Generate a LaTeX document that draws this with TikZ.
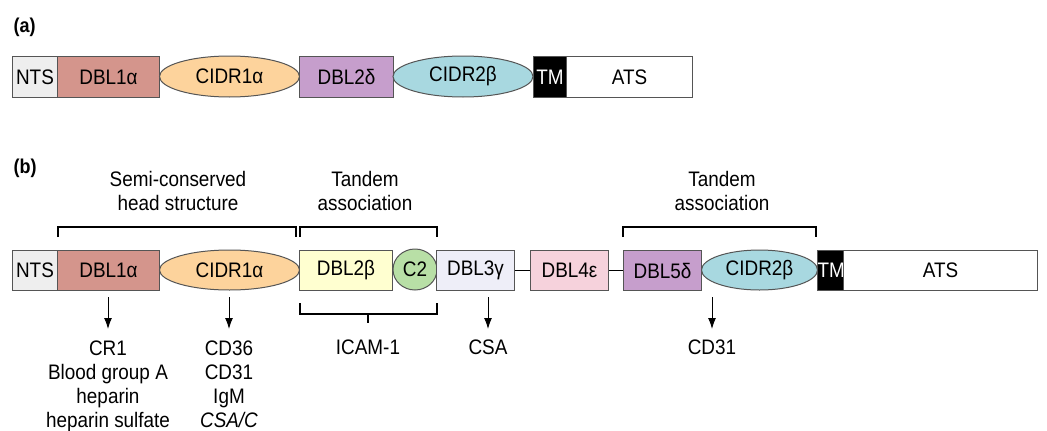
\documentclass[tikz,border=0pt]{standalone}
\usepackage{fontspec}
\setmainfont{Liberation Sans}
\usetikzlibrary{shapes.geometric,arrows.meta}
\definecolor{ntsc}{HTML}{EEEEEE}
\definecolor{dblonec}{HTML}{D4958C}
\definecolor{cidronec}{HTML}{FDD39C}
\definecolor{deltac}{HTML}{C69ECC}
\definecolor{cidrtwoc}{HTML}{A8D8E0}
\definecolor{betac}{HTML}{FFFFD0}
\definecolor{ctwoc}{HTML}{B8DFA6}
\definecolor{gammac}{HTML}{EEEEF8}
\definecolor{epsc}{HTML}{F6D2DC}
\definecolor{edgec}{HTML}{555555}
\newcommand{\sq}[1]{\scalebox{0.9}[1]{#1}}
\tikzset{
  x=1pt,y=-1pt,
  every node/.style={font=\fontsize{21}{25}\selectfont},
  dom/.style={draw=edgec,line width=1pt,rectangle,inner sep=0pt,anchor=north west},
  oval/.style={draw=edgec,line width=1pt,ellipse,inner sep=0pt},
  brk/.style={draw=black,line width=1.1pt},
  arr/.style={draw=black,line width=1pt,-{Latex[length=11pt,width=8pt]}},
  lbl/.style={font=\fontsize{20}{24}\selectfont\bfseries}
}
\begin{document}
\begin{tikzpicture}
\useasboundingbox (0,0) rectangle (1047,431);
\fill[white] (0,0) rectangle (1047,431);

% ---------- (a) ----------
\node[lbl,anchor=west] (la) at (10,27) {\sq{(a)}};
\node[dom,fill=ntsc,minimum width=45pt,minimum height=41pt] (aNTS) at (12,56) {\sq{NTS}};
\node[dom,fill=dblonec,minimum width=102pt,minimum height=41pt] (aDBL1) at (57,56) {\sq{DBL1α}};
\node[oval,fill=cidronec,minimum width=140pt,minimum height=41pt] (aCIDR1) at (229.5,76.5) {\sq{CIDR1α}};
\node[dom,fill=deltac,minimum width=94pt,minimum height=41pt] (aDBL2) at (299,56) {\sq{DBL2δ}};
\node[oval,fill=cidrtwoc,minimum width=140pt,minimum height=41pt] (aCIDR2) at (463,76.5) {\sq{CIDR2β}};
\node[dom,fill=black,text=white,minimum width=33pt,minimum height=41pt] (aTM) at (533,56) {\sq{TM}};
\node[dom,fill=white,minimum width=126pt,minimum height=41pt] (aATS) at (566,56) {\sq{ATS}};

% ---------- (b) ----------
\node[lbl,anchor=west] (lb) at (10,168) {\sq{(b)}};
\node[dom,fill=ntsc,minimum width=45pt,minimum height=40pt] (NTS) at (12,250) {\sq{NTS}};
\node[dom,fill=dblonec,minimum width=102pt,minimum height=40pt] (DBL1) at (57,250) {\sq{DBL1α}};
\node[oval,fill=cidronec,minimum width=140pt,minimum height=40pt] (CIDR1) at (229.5,270) {\sq{CIDR1α}};
\node[dom,fill=betac,minimum width=93pt,minimum height=40pt] (DBL2) at (299,250) {\sq{DBL2β}};
\node[oval,fill=ctwoc,minimum width=44pt,minimum height=41pt] (C2) at (415,269.5) {\sq{C2}};
\node[dom,fill=gammac,minimum width=78pt,minimum height=40pt] (DBL3) at (436,250) {\sq{DBL3γ}};
\node[dom,fill=epsc,minimum width=78pt,minimum height=40pt] (DBL4) at (530,250) {\sq{DBL4ε}};
\node[dom,fill=deltac,minimum width=78pt,minimum height=40pt] (DBL5) at (623,250) {\sq{DBL5δ}};
\node[oval,fill=cidrtwoc,minimum width=116pt,minimum height=40pt] (CIDR2) at (759.5,270) {\sq{CIDR2β}};
\node[dom,fill=black,text=white,minimum width=26pt,minimum height=40pt] (TM) at (817,250) {\sq{TM}};
\node[dom,fill=white,minimum width=194pt,minimum height=40pt] (ATS) at (843,250) {\sq{ATS}};
\draw[black,line width=1pt] (DBL3.east) -- (DBL4.west);
\draw[black,line width=1pt] (DBL4.east) -- (DBL5.west);

% brackets above
\coordinate (s1) at (58,237); \coordinate (s2) at (296,237);
\draw[brk] (s1) -- ++(0,-10) -| (s2);
\node (semi) at (178,193) {\sq{\begin{tabular}{@{}c@{}}Semi-conserved\\[-1pt]head structure\end{tabular}}};
\coordinate (t1) at (300,237); \coordinate (t2) at (437,237);
\draw[brk] (t1) -- ++(0,-10) -| (t2);
\node (tand1) at (365,193) {\sq{\begin{tabular}{@{}c@{}}Tandem\\[-1pt]association\end{tabular}}};
\coordinate (u1) at (623,237); \coordinate (u2) at (816,237);
\draw[brk] (u1) -- ++(0,-10) -| (u2);
\node (tand2) at (722,193) {\sq{\begin{tabular}{@{}c@{}}Tandem\\[-1pt]association\end{tabular}}};

% bracket below (ICAM-1)
\coordinate (i1) at (300,303); \coordinate (i2) at (437,303); \coordinate (im) at (368,314);
\draw[brk] (i1) -- ++(0,11) -| (i2);
\draw[brk] (im) -- ++(0,9);
\node (icam) at (368,347) {\sq{ICAM-1}};

% arrows and ligands
\coordinate (a1) at (108,297); \coordinate (e1) at (108,329);
\coordinate (a2) at (229,297); \coordinate (e2) at (229,329);
\coordinate (a3) at (488,297); \coordinate (e3) at (488,329);
\coordinate (a4) at (712,297); \coordinate (e4) at (712,329);
\node[anchor=north] (lig1) at (108,334) {\sq{\begin{tabular}{@{}c@{}}CR1\\[-1pt]Blood group A\\[-1pt]heparin\\[-1pt]heparin sulfate\end{tabular}}};
\node[anchor=north] (lig2) at (229,334) {\sq{\begin{tabular}{@{}c@{}}CD36\\[-1pt]CD31\\[-1pt]IgM\\[-1pt]\itshape CSA/C\end{tabular}}};
\node (lig3) at (488,347) {\sq{CSA}};
\node (lig4) at (712,347) {\sq{CD31}};
\draw[arr] (a1) -- (e1);
\draw[arr] (a2) -- (e2);
\draw[arr] (a3) -- (e3);
\draw[arr] (a4) -- (e4);
\end{tikzpicture}
\end{document}
